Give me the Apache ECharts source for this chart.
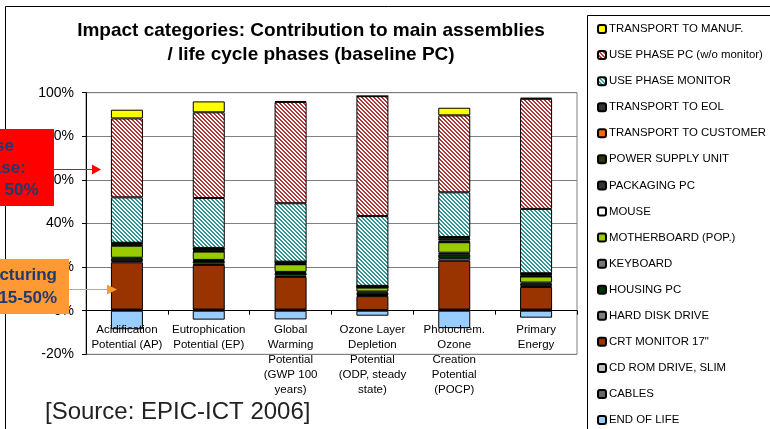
<!DOCTYPE html>
<html>
<head>
<meta charset="utf-8">
<script src="https://cdn.jsdelivr.net/npm/echarts@6/dist/echarts.min.js"></script>
<style>
  html, body { margin: 0; padding: 0; background: #ffffff; }
  #chart { width: 770px; height: 429px; }
</style>
</head>
<body>
<div id="chart"></div>
<script>
// Impact categories (x axis)
const categories = [
  'Acidification\nPotential (AP)',
  'Eutrophication\nPotential (EP)',
  'Global\nWarming\nPotential\n(GWP 100\nyears)',
  'Ozone Layer\nDepletion\nPotential\n(ODP, steady\nstate)',
  'Photochem.\nOzone\nCreation\nPotential\n(POCP)',
  'Primary\nEnergy'
];

// Share of each assembly / phase per impact category, in %
const endOfLife          = [-8.5, -4.1, -4.0, -2.3, -8.0, -3.2];
const cables             = [0.3, 0.3, 0.3, 0.2, 0.3, 0.3];
const cdRomDrive         = [0.2, 0.2, 0.2, 0.1, 0.2, 0.2];
const crtMonitor         = [21.7, 20.5, 15.0, 6.4, 22.4, 10.4];
const hardDiskDrive      = [0.5, 0.6, 0.6, 0.5, 1.2, 0.5];
const housingPc          = [1.2, 1.2, 1.2, 1.1, 1.8, 1.0];
const keyboard           = [0.4, 0.5, 0.5, 0.5, 0.7, 0.5];
const motherboard        = [5.5, 3.8, 3.5, 1.8, 4.8, 2.8];
const mouse              = [0.2, 0.2, 0.1, 0.1, 0.2, 0.1];
const packagingPc        = [0.3, 0.3, 0.3, 0.2, 0.6, 0.3];
const powerSupplyUnit    = [0.6, 0.8, 0.6, 0.3, 1.0, 0.7];
const transportCustomer  = [0.1, 0.1, 0.1, 0.1, 0.3, 0.2];
const transportEol       = [0.2, 0.3, 0.1, 0.1, 0.3, 0.2];
const usePhaseMonitor    = [20.8, 22.9, 26.8, 32.0, 20.5, 29.5];
const usePhasePc         = [36.2, 39.3, 46.4, 55.0, 35.3, 50.5];
const transportManuf     = [4.0, 5.0, 0.5, 0.1, 3.5, 0.5];

// Y axis range and ticks
const yMin = -20, yMax = 100, yStep = 20;

// Diagonal hatch fill used for the use-phase segments
function hatch(lineColor) {
  const c = document.createElement('canvas');
  c.width = 4; c.height = 4;
  const ctx = c.getContext('2d');
  ctx.fillStyle = '#ffffff';
  ctx.fillRect(0, 0, 4, 4);
  ctx.fillStyle = lineColor;
  for (let x = 0; x < 4; x++) {
    for (let y = 0; y < 4; y++) {
      const d = ((x - y) % 4 + 4) % 4;
      if (d === 0 || d === 1) ctx.fillRect(x, y, 1, 1);
    }
  }
  return { image: c, repeat: 'repeat' };
}

// Stacking order, bottom to top
const layers = [
  { name: 'END OF LIFE',              data: endOfLife,         color: '#99CCFF' },
  { name: 'CABLES',                   data: cables,            color: '#666666' },
  { name: 'CD ROM DRIVE, SLIM',       data: cdRomDrive,        color: '#C0C0C0' },
  { name: 'CRT MONITOR 17"',          data: crtMonitor,        color: '#993300' },
  { name: 'HARD DISK DRIVE',          data: hardDiskDrive,     color: '#808080' },
  { name: 'HOUSING PC',               data: housingPc,         color: '#003300' },
  { name: 'KEYBOARD',                 data: keyboard,          color: '#777777' },
  { name: 'MOTHERBOARD (POP.)',       data: motherboard,       color: '#99CC00' },
  { name: 'MOUSE',                    data: mouse,             color: '#FFFFFF' },
  { name: 'PACKAGING PC',             data: packagingPc,       color: '#333333' },
  { name: 'POWER SUPPLY UNIT',        data: powerSupplyUnit,   color: '#333300' },
  { name: 'TRANSPORT TO CUSTOMER',    data: transportCustomer, color: '#FF6600' },
  { name: 'TRANSPORT TO EOL',         data: transportEol,      color: '#333333' },
  { name: 'USE PHASE MONITOR',        data: usePhaseMonitor,   color: hatch('#2E9696') },
  { name: 'USE PHASE PC (w/o monitor)', data: usePhasePc,      color: hatch('#B03838') },
  { name: 'TRANSPORT TO MANUF.',      data: transportManuf,    color: '#FFFF00' }
];

const series = layers.map(l => ({
  name: l.name,
  type: 'bar',
  stack: 'total',
  barWidth: 32,
  data: l.data,
  itemStyle: { color: l.color, borderColor: '#000000', borderWidth: 1 },
  emphasis: { disabled: true }
}));

const chart = echarts.init(document.getElementById('chart'), null, { renderer: 'canvas' });

chart.setOption({
  animation: false,
  backgroundColor: '#ffffff',
  title: {
    text: 'Impact categories: Contribution to main assemblies\n/ life cycle phases (baseline PC)',
    left: 311,
    top: 19,
    padding: 0,
    textAlign: 'center',
    textStyle: {
      fontFamily: 'Liberation Sans, Arial, sans-serif',
      fontSize: 19,
      fontWeight: 'bold',
      color: '#000000',
      lineHeight: 24
    }
  },
  legend: {
    orient: 'vertical',
    left: 597,
    top: 22,
    padding: 0,
    itemWidth: 8,
    itemHeight: 8,
    itemGap: 12.07,
    selectedMode: false,
    data: layers.map(l => l.name).reverse(),
    textStyle: {
      fontFamily: 'Liberation Sans, Arial, sans-serif',
      fontSize: 11.4,
      color: '#000000',
      lineHeight: 14,
      padding: [0, 0, 0, -2]
    }
  },
  grid: {
    left: 86,
    right: 193,
    top: 92.7,
    bottom: 74.7,
    outerBoundsMode: 'none',
    containLabel: false,
    show: true,
    borderColor: '#808080',
    borderWidth: 1,
    backgroundColor: 'transparent'
  },
  xAxis: {
    type: 'category',
    data: categories,
    z: 5,
    axisLine: { onZero: true, lineStyle: { color: '#000000', width: 1 } },
    axisTick: { show: true, length: 4, lineStyle: { color: '#000000' } },
    axisLabel: {
      interval: 0,
      margin: -32,
      fontFamily: 'Liberation Sans, Arial, sans-serif',
      fontSize: 11.5,
      lineHeight: 15,
      color: '#000000'
    },
    splitLine: { show: false }
  },
  yAxis: {
    type: 'value',
    min: yMin,
    max: yMax,
    interval: yStep,
    axisLine: { show: true, lineStyle: { color: '#000000', width: 1 } },
    axisTick: { show: true, length: 4, lineStyle: { color: '#000000' } },
    axisLabel: {
      formatter: '{value}%',
      margin: 12,
      fontFamily: 'Liberation Sans, Arial, sans-serif',
      fontSize: 14,
      color: '#000000'
    },
    splitLine: { show: true, lineStyle: { color: '#808080', width: 1 } }
  },
  series: series,
  graphic: [
    // outer slide frame
    { type: 'rect', z: 0, silent: true,
      shape: { x: 5.5, y: 6.5, width: 900, height: 600 },
      style: { fill: 'none', stroke: '#000000', lineWidth: 1 } },
    // legend frame
    { type: 'rect', z: 0, silent: true,
      shape: { x: 587.5, y: 15.5, width: 300, height: 600 },
      style: { fill: 'none', stroke: '#000000', lineWidth: 1 } },
    // use phase callout
    { type: 'rect', z: 100, silent: true,
      shape: { x: -80, y: 129, width: 134, height: 77 },
      style: { fill: '#FF0000' } },
    { type: 'text', z: 101, silent: true,
      x: -1.6, y: 135.7,
      style: {
        text: 'Use\nphase:\nup to 50%',
        align: 'center', verticalAlign: 'top',
        fontFamily: 'Liberation Sans, Arial, sans-serif',
        fontSize: 17, fontWeight: 'bold', lineHeight: 22,
        fill: '#1F3A6E'
      } },
    { type: 'line', z: 100, silent: true,
      shape: { x1: 54, y1: 169.5, x2: 94, y2: 169.5 },
      style: { stroke: '#FF0000', lineWidth: 1.2 } },
    { type: 'polygon', z: 100, silent: true,
      shape: { points: [[92, 164.5], [101, 169.5], [92, 174.5]] },
      style: { fill: '#FF0000' } },
    // manufacturing callout
    { type: 'rect', z: 100, silent: true,
      shape: { x: -80, y: 259, width: 149, height: 55 },
      style: { fill: '#FF9933' } },
    { type: 'text', z: 101, silent: true,
      x: 57, y: 263.5,
      style: {
        text: 'Manufacturing\n15-50%',
        align: 'right', verticalAlign: 'top',
        fontFamily: 'Liberation Sans, Arial, sans-serif',
        fontSize: 17, fontWeight: 'bold', lineHeight: 23,
        fill: '#1F3A6E'
      } },
    { type: 'line', z: 100, silent: true,
      shape: { x1: 69, y1: 289.5, x2: 110, y2: 289.5 },
      style: { stroke: '#FF9933', lineWidth: 1.2 } },
    { type: 'polygon', z: 100, silent: true,
      shape: { points: [[107, 284.5], [117, 289.5], [107, 294.5]] },
      style: { fill: '#FF9933' } },
    // source note
    { type: 'text', z: 100, silent: true,
      x: 45, y: 412,
      style: {
        text: '[Source: EPIC-ICT 2006]',
        align: 'left', verticalAlign: 'middle',
        fontFamily: 'Liberation Sans, Arial, sans-serif',
        fontSize: 24,
        fill: '#222222'
      } }
  ]
});
</script>
</body>
</html>
